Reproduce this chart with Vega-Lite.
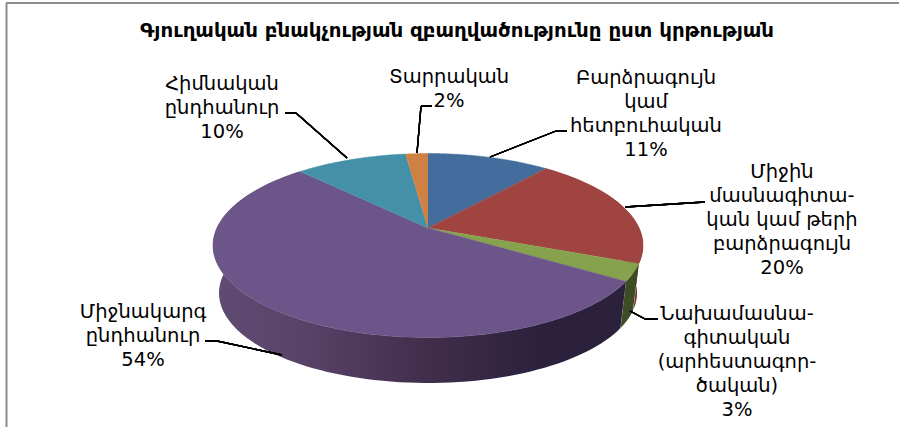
{"$schema":"https://vega.github.io/schema/vega-lite/v6.json","autosize":{"type":"none"},"padding":0,"width":899,"height":427,"background":"white","view":{"stroke":null},"config":{"axis":{"disable":true},"legend":{"disable":true}},"datasets":{"slices":[{"rank":1,"name":"Բարձրագույն\nկամ\nհետբուհական","share":11},{"rank":2,"name":"Միջին\nմասնագիտա-\nկան կամ թերի\nբարձրագույն","share":20},{"rank":3,"name":"Նախամասնա-\nգիտական\n(արհեստագոր-\nծական)","share":3},{"rank":4,"name":"Միջնակարգ\nընդհանուր","share":54},{"rank":5,"name":"Հիմնական\nընդհանուր","share":10},{"rank":6,"name":"Տարրական","share":2}],"heading":[{"text":"Գյուղական բնակչության զբաղվածությունը ըստ կրթության"}]},"data":{"name":"slices"},"transform":[{"window":[{"op":"sum","field":"share","as":"cumEnd"}],"sort":[{"field":"rank"}]},{"calculate":"(datum.cumEnd-datum.share)","as":"cumStart"},{"calculate":"datum.name+'\\n'+datum.share+'%'","as":"label"}],"encoding":{"x":{"type":"quantitative","scale":{"domain":[0,899],"nice":false,"zero":false},"axis":null},"y":{"type":"quantitative","scale":{"domain":[427,0],"nice":false,"zero":false},"axis":null}},"layer":[{"transform":[{"filter":"datum.rank<=4"},{"calculate":"sequence(0,2.0001,0.01)","as":"t"},{"flatten":["t"]},{"calculate":"datum.t<=1?datum.t:2-datum.t","as":"u"},{"calculate":"2*atan(0.83*tan(PI*(datum.cumStart+datum.u*datum.share)/100))","as":"phi"},{"calculate":"datum.t<=1?428+215*sin(datum.phi):428+209*sin(datum.phi)","as":"px"},{"calculate":"datum.t<=1?245.5-92*cos(datum.phi):293-90*cos(datum.phi)","as":"py"},{"filter":"datum.rank==2"}],"mark":{"type":"line","fill":"#7a302e","strokeWidth":0},"encoding":{"x":{"field":"px"},"y":{"field":"py"},"order":{"field":"t"}}},{"transform":[{"filter":"datum.rank<=4"},{"calculate":"sequence(0,2.0001,0.01)","as":"t"},{"flatten":["t"]},{"calculate":"datum.t<=1?datum.t:2-datum.t","as":"u"},{"calculate":"2*atan(0.83*tan(PI*(datum.cumStart+datum.u*datum.share)/100))","as":"phi"},{"calculate":"datum.t<=1?428+215*sin(datum.phi):428+209*sin(datum.phi)","as":"px"},{"calculate":"datum.t<=1?245.5-92*cos(datum.phi):293-90*cos(datum.phi)","as":"py"},{"filter":"datum.rank==3"}],"mark":{"type":"line","fill":"#3d4c24","strokeWidth":0},"encoding":{"x":{"field":"px"},"y":{"field":"py"},"order":{"field":"t"}}},{"transform":[{"filter":"datum.rank<=4"},{"calculate":"sequence(0,2.0001,0.01)","as":"t"},{"flatten":["t"]},{"calculate":"datum.t<=1?datum.t:2-datum.t","as":"u"},{"calculate":"2*atan(0.83*tan(PI*(datum.cumStart+datum.u*datum.share)/100))","as":"phi"},{"calculate":"datum.t<=1?428+215*sin(datum.phi):428+209*sin(datum.phi)","as":"px"},{"calculate":"datum.t<=1?245.5-92*cos(datum.phi):293-90*cos(datum.phi)","as":"py"},{"filter":"datum.rank==4"}],"mark":{"type":"line","strokeWidth":0,"fill":{"gradient":"linear","x1":0,"x2":1,"y1":0,"y2":0,"stops":[{"offset":0,"color":"#604b74"},{"offset":0.2,"color":"#5a4469"},{"offset":0.55,"color":"#3e2c4a"},{"offset":0.8,"color":"#2b213c"},{"offset":1,"color":"#2b213c"}]}},"encoding":{"x":{"field":"px"},"y":{"field":"py"},"order":{"field":"t"}}},{"transform":[{"calculate":"sequence(-0.02,1.0001,0.01)","as":"t"},{"flatten":["t"]},{"calculate":"2*atan(0.83*tan(PI*(datum.cumStart+datum.t*datum.share)/100))","as":"phi"},{"calculate":"datum.t<-0.001?428:428+215*sin(datum.phi)","as":"px"},{"calculate":"datum.t<-0.001?228:245.5-92*cos(datum.phi)","as":"py"}],"mark":{"type":"line","strokeWidth":0.5},"encoding":{"x":{"field":"px"},"y":{"field":"py"},"order":{"field":"t"},"fill":{"field":"rank","type":"nominal","scale":{"domain":[1,2,3,4,5,6],"range":["#426d9d","#a04441","#87a24d","#6c5689","#4390a8","#ce8142"]}},"stroke":{"field":"rank","type":"nominal","scale":{"domain":[1,2,3,4,5,6],"range":["#426d9d","#a04441","#87a24d","#6c5689","#4390a8","#ce8142"]}}}},{"mark":{"type":"rule","color":"#8c8c8c","strokeWidth":2},"data":{"values":[{}]},"transform":[],"encoding":{"x":{"datum":6.5},"y":{"datum":3},"y2":{"datum":427}}},{"mark":{"type":"rule","color":"#8c8c8c","strokeWidth":2},"data":{"values":[{}]},"encoding":{"y":{"datum":3},"x":{"datum":6},"x2":{"datum":899}}},{"data":{"name":"heading"},"mark":{"type":"text","font":"DejaVu Sans","fontWeight":"bold","fontSize":19.8,"align":"center","baseline":"middle","color":"#000"},"encoding":{"x":{"datum":457},"y":{"datum":31},"text":{"field":"text"}}},{"layer":[{"encoding":{"x":{"datum":285},"y":{"datum":113},"x2":{"datum":296},"y2":{"datum":113}},"mark":{"type":"rule","color":"#000","strokeWidth":1.3}},{"encoding":{"x":{"datum":296},"y":{"datum":113},"x2":{"datum":347},"y2":{"datum":158}},"mark":{"type":"rule","color":"#000","strokeWidth":1.3}},{"encoding":{"x":{"datum":432},"y":{"datum":106},"x2":{"datum":421},"y2":{"datum":106}},"mark":{"type":"rule","color":"#000","strokeWidth":1.3}},{"encoding":{"x":{"datum":421},"y":{"datum":106},"x2":{"datum":417},"y2":{"datum":153}},"mark":{"type":"rule","color":"#000","strokeWidth":1.3}},{"encoding":{"x":{"datum":567},"y":{"datum":131},"x2":{"datum":556},"y2":{"datum":131}},"mark":{"type":"rule","color":"#000","strokeWidth":1.3}},{"encoding":{"x":{"datum":556},"y":{"datum":131},"x2":{"datum":490},"y2":{"datum":157}},"mark":{"type":"rule","color":"#000","strokeWidth":1.3}},{"encoding":{"x":{"datum":705},"y":{"datum":202},"x2":{"datum":625},"y2":{"datum":207}},"mark":{"type":"rule","color":"#000","strokeWidth":1.3}},{"encoding":{"x":{"datum":658},"y":{"datum":319},"x2":{"datum":645},"y2":{"datum":319}},"mark":{"type":"rule","color":"#000","strokeWidth":1.3}},{"encoding":{"x":{"datum":645},"y":{"datum":319},"x2":{"datum":630},"y2":{"datum":311}},"mark":{"type":"rule","color":"#000","strokeWidth":1.3}},{"encoding":{"x":{"datum":205},"y":{"datum":341},"x2":{"datum":217},"y2":{"datum":341}},"mark":{"type":"rule","color":"#000","strokeWidth":1.3}},{"encoding":{"x":{"datum":217},"y":{"datum":341},"x2":{"datum":282},"y2":{"datum":355}},"mark":{"type":"rule","color":"#000","strokeWidth":1.3}}]},{"transform":[{"filter":"datum.rank==1"}],"mark":{"type":"text","font":"DejaVu Sans","fontSize":19.5,"lineHeight":24,"lineBreak":"\n","align":"center","baseline":"middle","color":"#000"},"encoding":{"x":{"datum":646},"y":{"datum":78},"text":{"field":"label"}}},{"transform":[{"filter":"datum.rank==2"}],"mark":{"type":"text","font":"DejaVu Sans","fontSize":19.5,"lineHeight":24,"lineBreak":"\n","align":"center","baseline":"middle","color":"#000"},"encoding":{"x":{"datum":782},"y":{"datum":172},"text":{"field":"label"}}},{"transform":[{"filter":"datum.rank==3"}],"mark":{"type":"text","font":"DejaVu Sans","fontSize":19.5,"lineHeight":24,"lineBreak":"\n","align":"center","baseline":"middle","color":"#000"},"encoding":{"x":{"datum":737},"y":{"datum":314},"text":{"field":"label"}}},{"transform":[{"filter":"datum.rank==4"}],"mark":{"type":"text","font":"DejaVu Sans","fontSize":19.5,"lineHeight":24,"lineBreak":"\n","align":"center","baseline":"middle","color":"#000"},"encoding":{"x":{"datum":143},"y":{"datum":312},"text":{"field":"label"}}},{"transform":[{"filter":"datum.rank==5"}],"mark":{"type":"text","font":"DejaVu Sans","fontSize":19.5,"lineHeight":24,"lineBreak":"\n","align":"center","baseline":"middle","color":"#000"},"encoding":{"x":{"datum":222},"y":{"datum":84},"text":{"field":"label"}}},{"transform":[{"filter":"datum.rank==6"}],"mark":{"type":"text","font":"DejaVu Sans","fontSize":19.5,"lineHeight":24,"lineBreak":"\n","align":"center","baseline":"middle","color":"#000"},"encoding":{"x":{"datum":449},"y":{"datum":77},"text":{"field":"label"}}}]}
